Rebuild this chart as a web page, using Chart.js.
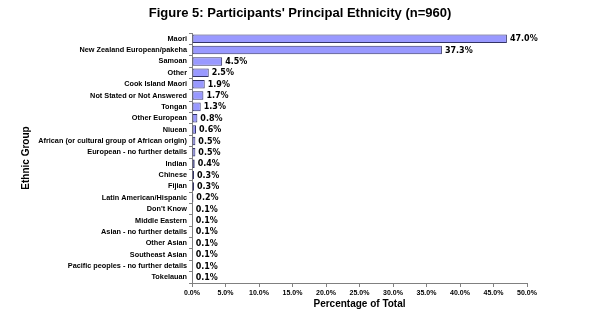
<!DOCTYPE html>
<html>
<head>
<meta charset="utf-8">
<script src="https://cdn.jsdelivr.net/npm/chart.js@4"></script>
<style>
  html, body { margin: 0; padding: 0; background: #fff; }
  #wrap { width: 600px; height: 322px; }
</style>
</head>
<body>
<div id="wrap"><canvas id="barChart"></canvas></div>
<script>
const groups = ['Maori', 'New Zealand European/pakeha', 'Samoan', 'Other', 'Cook Island Maori',
    'Not Stated or Not Answered', 'Tongan', 'Other European', 'Niuean',
    'African (or cultural group of African origin)', 'European - no further details', 'Indian',
    'Chinese', 'Fijian', 'Latin American/Hispanic', "Don't Know", 'Middle Eastern',
    'Asian - no further details', 'Other Asian', 'Southeast Asian',
    'Pacific peoples - no further details', 'Tokelauan']
const percents = [47.0, 37.3, 4.5, 2.5, 1.9, 1.7, 1.3, 0.8, 0.6, 0.5, 0.5, 0.4,
    0.3, 0.3, 0.2, 0.1, 0.1, 0.1, 0.1, 0.1, 0.1, 0.1]
const xTicks = [0, 5, 10, 15, 20, 25, 30, 35, 40, 45, 50]
const chartTitle = "Figure 5: Participants' Principal Ethnicity (n=960)"

const fontFamily = '"Liberation Sans", Arial, sans-serif'

// value labels at the end of each bar + title centred on the whole canvas
const extras = {
    id: 'extras',
    afterDatasetsDraw(chart) {
        const ctx = chart.ctx
        ctx.save()
        ctx.font = 'bold 8px "DejaVu Sans", Verdana, sans-serif'
        ctx.fillStyle = '#000'
        ctx.textBaseline = 'middle'
        ctx.textAlign = 'left'
        chart.getDatasetMeta(0).data.forEach((bar, i) => {
            ctx.fillText(percents[i].toFixed(1) + '%', bar.x + 3, bar.y + 0.5)
        })
        ctx.font = 'bold 13px ' + fontFamily
        ctx.textAlign = 'center'
        ctx.fillText(chartTitle, chart.width / 2, 13)
        ctx.restore()
    }
}

const ctx = document.getElementById('barChart')
const myChart = new Chart(ctx, {
    type: 'bar',
    data: {
        labels: groups,
        datasets: [{
            data: percents,
            backgroundColor: '#9999ff',
            borderColor: '#333366',
            borderWidth: 1,
            borderSkipped: false,
            categoryPercentage: 1,
            barPercentage: 0.75
        }]
    },
    options: {
        indexAxis: 'y',
        animation: false,
        responsive: true,
        maintainAspectRatio: false,
        layout: { padding: { left: 0, right: 73, top: 33, bottom: 0 } },
        scales: {
            x: {
                min: 0,
                max: 50,
                afterBuildTicks: (scale) => { scale.ticks = xTicks.map(v => ({ value: v })) },
                afterFit: (scale) => { scale.height = 39 },
                border: { color: '#808080', width: 1 },
                grid: { drawOnChartArea: false, tickLength: 4, color: '#808080' },
                ticks: {
                    padding: 2,
                    maxRotation: 0,
                    autoSkip: false,
                    color: '#000',
                    font: { family: fontFamily, size: 7, weight: 'bold' },
                    callback: (v) => Number(v).toFixed(1) + '%'
                },
                title: {
                    display: true,
                    text: 'Percentage of Total',
                    color: '#000',
                    font: { family: fontFamily, size: 10, weight: 'bold' },
                    padding: { top: 0, bottom: 12 }
                }
            },
            y: {
                afterFit: (scale) => { scale.width = 192 },
                border: { color: '#808080', width: 1 },
                grid: { drawOnChartArea: false, tickLength: 3, color: '#808080' },
                ticks: {
                    padding: 2,
                    autoSkip: false,
                    color: '#000',
                    font: { family: fontFamily, size: 7.3, weight: 'bold' }
                },
                title: {
                    display: true,
                    text: 'Ethnic Group',
                    color: '#000',
                    font: { family: fontFamily, size: 10, weight: 'bold' },
                    padding: { top: 20, bottom: 0 }
                }
            }
        },
        plugins: {
            legend: { display: false },
            tooltip: { enabled: false },
            title: { display: false }
        }
    },
    plugins: [extras]
})
</script>
</body>
</html>
